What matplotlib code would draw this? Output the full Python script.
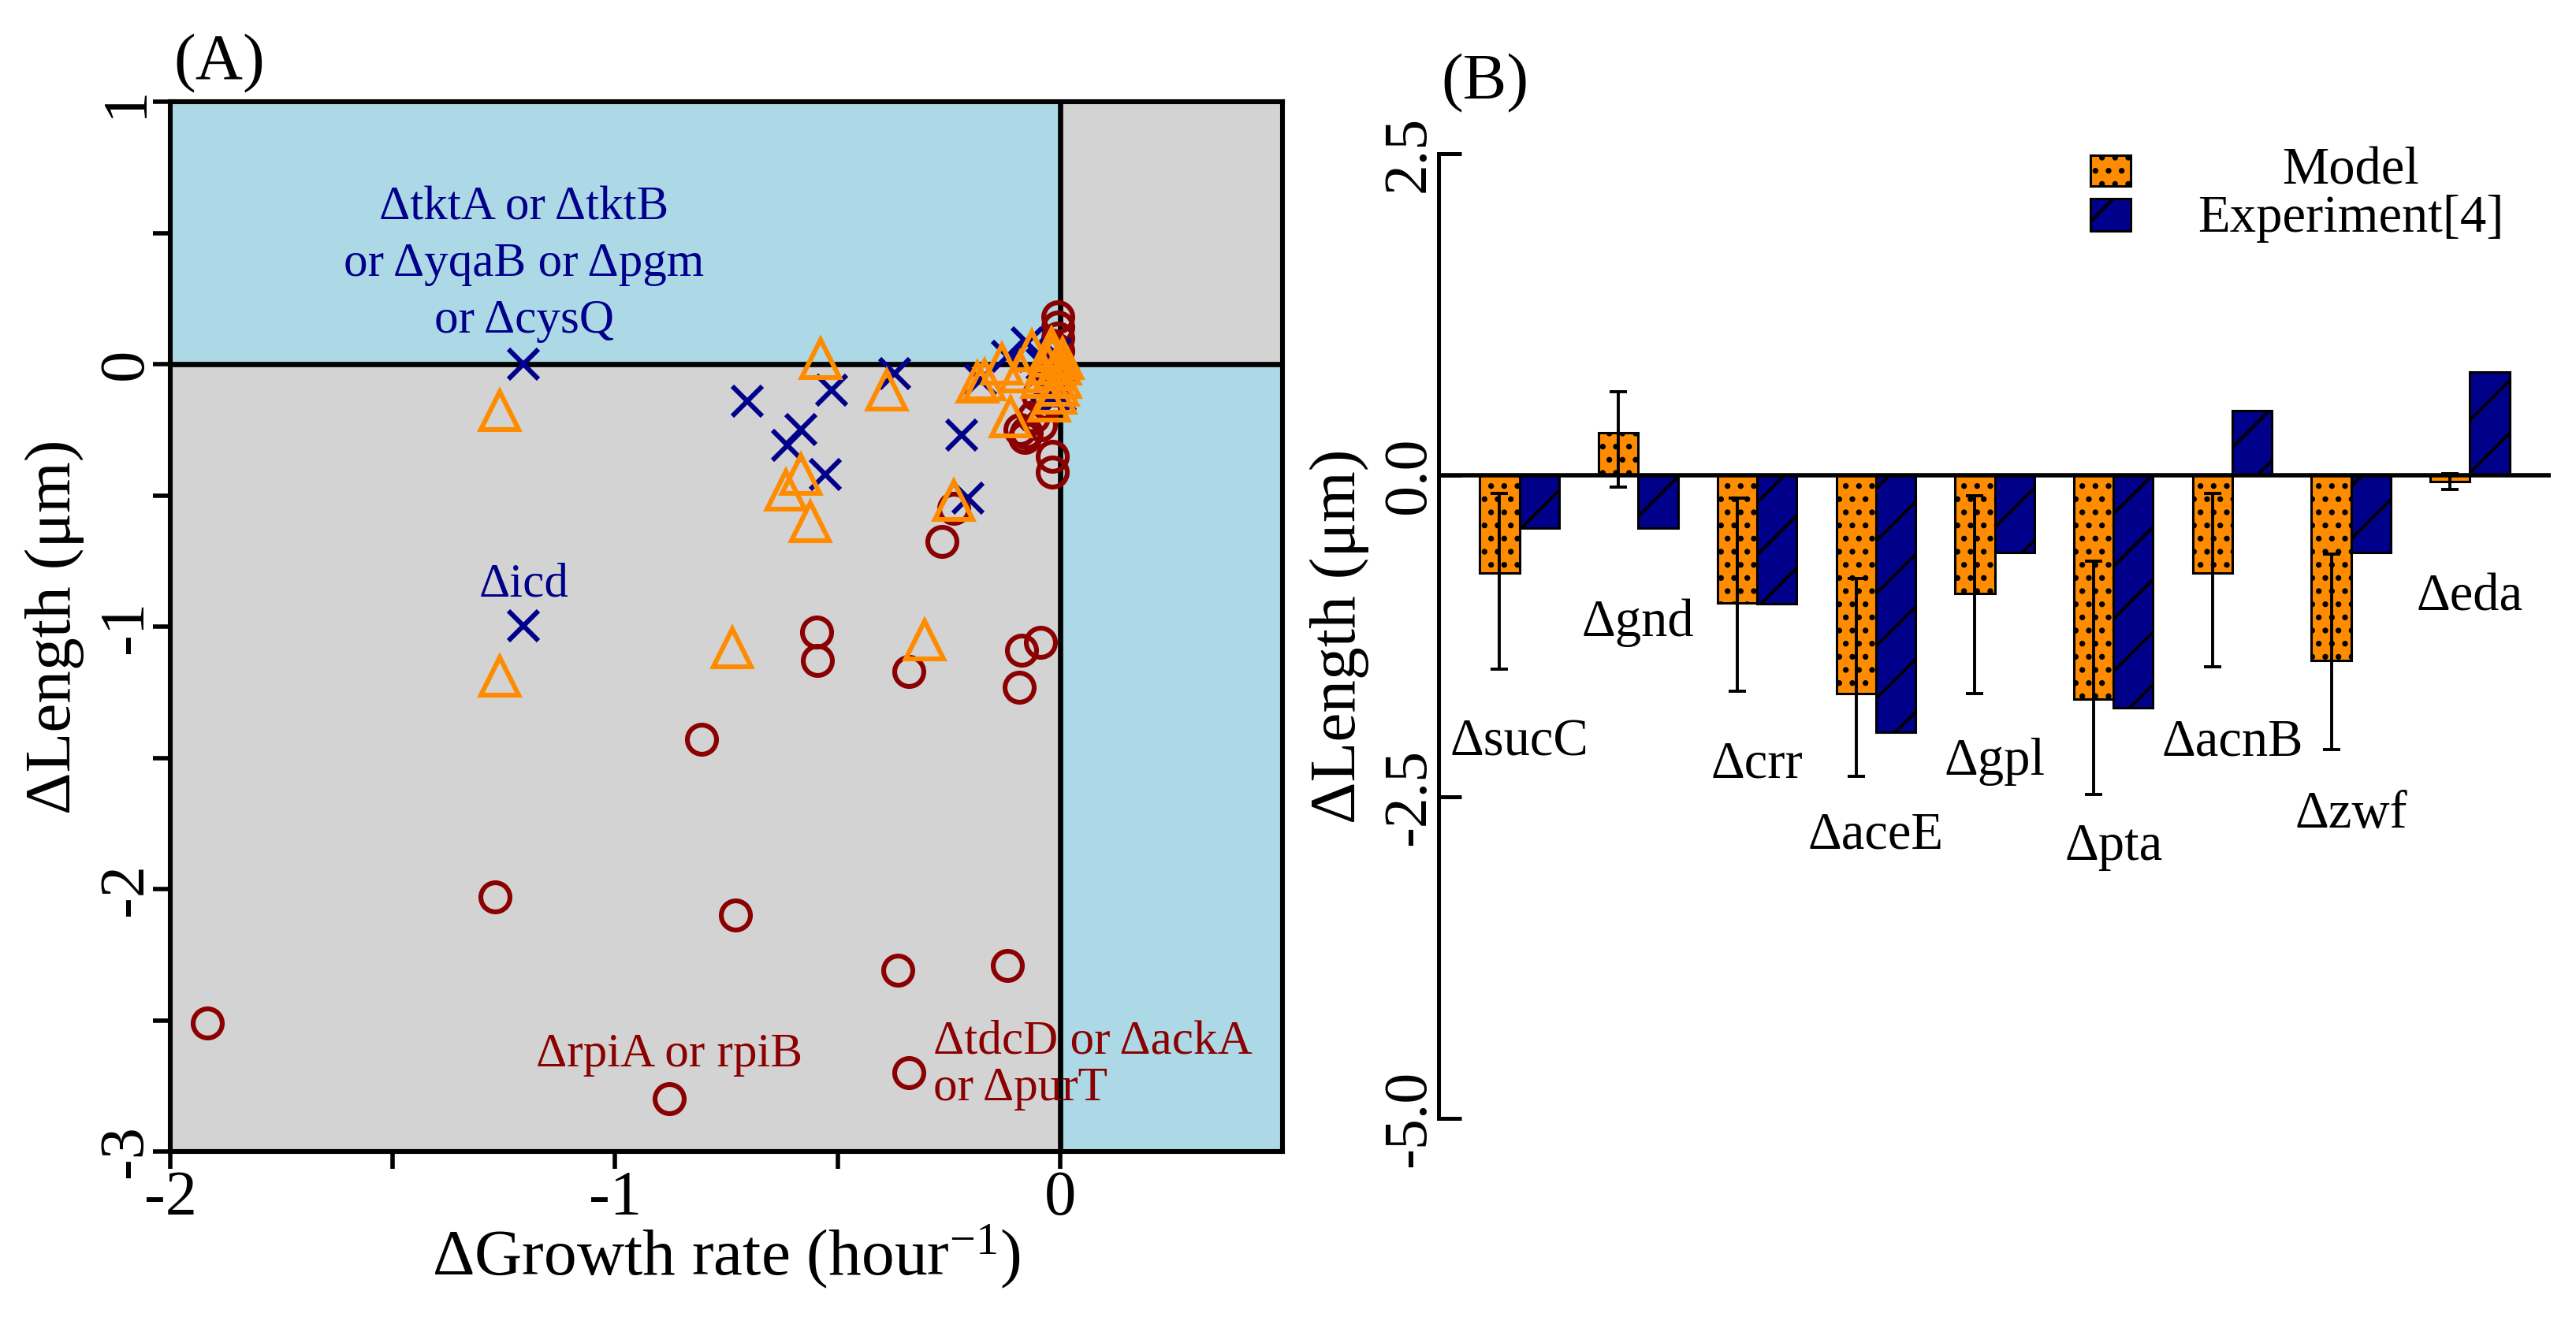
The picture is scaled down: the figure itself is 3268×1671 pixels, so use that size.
import numpy as np
import matplotlib
matplotlib.use("Agg")
import matplotlib.pyplot as plt
from matplotlib.patches import Rectangle

# ---------------------------------------------------------------------------
# Data
# ---------------------------------------------------------------------------

# Panel A: (growth rate change, length change) for three groups of knockouts
circ_x = [-1.917, -1.27, -0.73, -0.806, -0.879, -0.547, -0.545, -0.34, -0.365,
          -0.34, -0.119, -0.265, -0.239, -0.044, -0.087, -0.092,
          -0.017, -0.017, -0.076, -0.044, -0.08, -0.06, -0.03, -0.01, -0.005,
          -0.005, -0.005, -0.005, -0.005, -0.02, -0.05, -0.09, -0.012]
circ_y = [-2.51, -2.03, -2.10, -1.43, -2.80, -1.02, -1.13, -1.17, -2.31,
          -2.70, -2.29, -0.676, -0.55, -1.06, -1.09, -1.23,
          -0.41, -0.35, -0.26, -0.23, -0.28, -0.20, -0.15, -0.10, 0.0,
          0.05, 0.10, 0.14, 0.18, -0.05, -0.12, -0.25, 0.06]

cross_x = [-1.206, -1.206, -0.703, -0.513, -0.583, -0.613, -0.528, -0.372,
           -0.221, -0.207, -0.179, -0.118, -0.074, -0.04, -0.03, -0.015,
           -0.01, 0.0]
cross_y = [0.0, -0.997, -0.14, -0.10, -0.25, -0.31, -0.42, -0.035,
           -0.27, -0.51, -0.06, 0.03, 0.08, 0.0, -0.08, -0.12,
           0.04, -0.12]

tri_x = [-1.26, -1.26, -0.737, -0.538, -0.389, -0.583, -0.616, -0.561,
         -0.304, -0.239, -0.186, -0.17, -0.111, -0.13, -0.063, -0.09,
         -0.017, -0.025, -0.01, 0.0, -0.005, -0.04, 0.005, -0.02, 0.0,
         -0.03, -0.01]
tri_y = [-0.178, -1.19, -1.08, 0.02, -0.10, -0.42, -0.48, -0.60,
         -1.05, -0.52, -0.07, -0.06, -0.20, 0.0, 0.05, -0.03,
         0.03, -0.14, -0.02, 0.0, -0.08, -0.05, 0.02, 0.06, -0.05,
         0.0, -0.11]

# Panel B: length change per knockout
genes = ["ΔsucC", "Δgnd", "Δcrr", "ΔaceE", "Δgpl", "Δpta", "ΔacnB", "Δzwf", "Δeda"]
model = [-0.76, 0.33, -0.99, -1.70, -0.92, -1.74, -0.76, -1.44, -0.05]
experiment = [-0.41, -0.41, -1.00, -2.00, -0.60, -1.81, 0.50, -0.60, 0.80]
err_hi = [-0.14, 0.65, -0.18, -0.80, -0.16, -0.67, -0.14, -0.61, 0.01]
err_lo = [-1.51, -0.09, -1.68, -2.34, -1.70, -2.48, -1.49, -2.13, -0.11]
gene_label_y = [-2.08, -1.15, -2.25, -2.80, -2.23, -2.89, -2.08, -2.64, -0.95]

# ---------------------------------------------------------------------------
# Style
# ---------------------------------------------------------------------------
plt.rcParams["font.family"] = ["Liberation Serif", "DejaVu Serif"]
plt.rcParams["mathtext.fontset"] = "custom"
plt.rcParams["mathtext.rm"] = "Liberation Serif"
plt.rcParams["mathtext.it"] = "Liberation Serif:italic"
plt.rcParams["axes.unicode_minus"] = False
plt.rcParams["hatch.linewidth"] = 1.4

ORANGE = "#FF8C00"
NAVY = "#00008B"
DARKRED = "#8B0000"
LIGHTBLUE = "#ADD8E6"
LIGHTGRAY = "#D3D3D3"

W, H = 3268, 1671
DPI = 200
fig = plt.figure(figsize=(W / DPI, H / DPI), dpi=DPI)


def px_axes(left, top, right, bottom):
    return fig.add_axes([left / W, 1 - bottom / H, (right - left) / W, (bottom - top) / H])


# ---------------------------------------------------------------------------
# Panel A
# ---------------------------------------------------------------------------
ax = px_axes(216, 129, 1627, 1461)
ax.set_xlim(-2, 0.5)
ax.set_ylim(-3, 1)
ax.set_facecolor(LIGHTGRAY)
ax.fill_between([-2, 0], 0, 1, color=LIGHTBLUE, lw=0, zorder=0)
ax.fill_between([0, 0.5], -3, 0, color=LIGHTBLUE, lw=0, zorder=0)
ax.axhline(0, color="black", lw=2.4, zorder=1)
ax.axvline(0, color="black", lw=2.4, zorder=1)

ax.plot(circ_x, circ_y, "o", ms=13.3, mfc="none", mec=DARKRED, mew=2.2,
        zorder=3, clip_on=False)
ax.plot(cross_x, cross_y, "x", ms=14, mec=NAVY, mew=2.2, zorder=4, clip_on=False)
ax.plot(tri_x, tri_y, "^", ms=17, mfc="none", mec=ORANGE, mew=2.2, zorder=5,
        clip_on=False)

ax.text(-1.205, 0.38, "ΔtktA or ΔtktB\nor ΔyqaB or Δpgm\nor ΔcysQ", color=NAVY,
        fontsize=22, ha="center", va="center", linespacing=1.38, zorder=6)
ax.text(-1.205, -0.84, "Δicd", color=NAVY, fontsize=22, ha="center", va="center",
        zorder=6)
ax.text(-0.879, -2.632, "ΔrpiA or rpiB", color=DARKRED, fontsize=22, ha="center",
        va="center", zorder=6)
ax.text(-0.285, -2.672, "ΔtdcD or ΔackA\nor ΔpurT", color=DARKRED, fontsize=22,
        ha="left", va="center", linespacing=1.1, zorder=6)

for sp in ax.spines.values():
    sp.set_linewidth(2.2)
    sp.set_zorder(7)
ax.set_xticks([-2, -1.5, -1, -0.5, 0])
ax.set_xticklabels(["-2", "", "-1", "", "0"])
ax.set_yticks(np.arange(-3, 1.01, 0.5))
ax.set_yticklabels(["-3", "", "-2", "", "-1", "", "0", "", "1"], rotation=90,
                   va="center")
ax.tick_params(direction="out", length=8, width=2, labelsize=29)
ax.tick_params(axis="x", pad=0.5)
ax.tick_params(axis="y", pad=-1)
ax.set_xlabel("ΔGrowth rate (hour$^{-1}$)", fontsize=30)
ax.set_ylabel("ΔLength (μm)", fontsize=30)
ax.xaxis.set_label_coords(0.5, -0.068)
ax.yaxis.set_label_coords(-0.0769, 0.5)

fig.text(220 / W, 1 - 100 / H, "(A)", fontsize=30, ha="left", va="baseline")

# ---------------------------------------------------------------------------
# Panel B
# ---------------------------------------------------------------------------
bx = px_axes(1825, 146, 3236, 1468)
n = len(genes)
group_left = 1 + 3 * np.arange(n)
bx.set_xlim(-0.04, 28.04)
bx.set_ylim(-5.3, 2.8)

bx.bar(group_left, model, width=1, align="edge", color=ORANGE, edgecolor="black",
       hatch="..", lw=1.1, zorder=2)
bx.bar(group_left + 1, experiment, width=1, align="edge", color=NAVY,
       edgecolor="black", hatch="/", lw=1.1, zorder=2)
yerr = [np.array(model) - np.array(err_lo), np.array(err_hi) - np.array(model)]
bx.errorbar(group_left + 0.5, model, yerr=yerr, fmt="none", ecolor="black",
            elinewidth=1.4, capsize=4, capthick=1.4, zorder=3)
bx.axhline(0, color="black", lw=2.0, zorder=4)

for i, g in enumerate(genes):
    bx.text(group_left[i] + 1, gene_label_y[i], g, fontsize=24, ha="center",
            va="center")

for side in ["top", "right", "bottom"]:
    bx.spines[side].set_visible(False)
bx.spines["left"].set_linewidth(1.8)
bx.spines["left"].set_bounds(-5, 2.5)
bx.set_xticks([])
bx.set_yticks([2.5, 0, -2.5, -5])
bx.set_yticklabels(["2.5", "0.0", "-2.5", "-5.0"], rotation=90, va="center")
bx.tick_params(axis="y", direction="in", length=10.5, width=1.8, labelsize=28, pad=0.5)
bx.set_ylabel("ΔLength (μm)", fontsize=30)
bx.yaxis.set_label_coords(-0.0624, 0.5)

fig.text(1828 / W, 1 - 125 / H, "(B)", fontsize=30, ha="left", va="baseline")

# legend drawn by hand so the labels are centred like the original
fig.patches.append(Rectangle((2652 / W, 1 - 236 / H), 51 / W, 39 / H,
                             transform=fig.transFigure, facecolor=ORANGE,
                             edgecolor="black", hatch="..", lw=1.1))
fig.patches.append(Rectangle((2652 / W, 1 - 293 / H), 51 / W, 41 / H,
                             transform=fig.transFigure, facecolor=NAVY,
                             edgecolor="black", hatch="/", lw=1.1))
fig.text(2982 / W, 1 - 233 / H, "Model", fontsize=24, ha="center", va="baseline")
fig.text(2982 / W, 1 - 294 / H, "Experiment[4]", fontsize=24, ha="center",
         va="baseline")

fig.savefig("out.png", dpi=DPI)
